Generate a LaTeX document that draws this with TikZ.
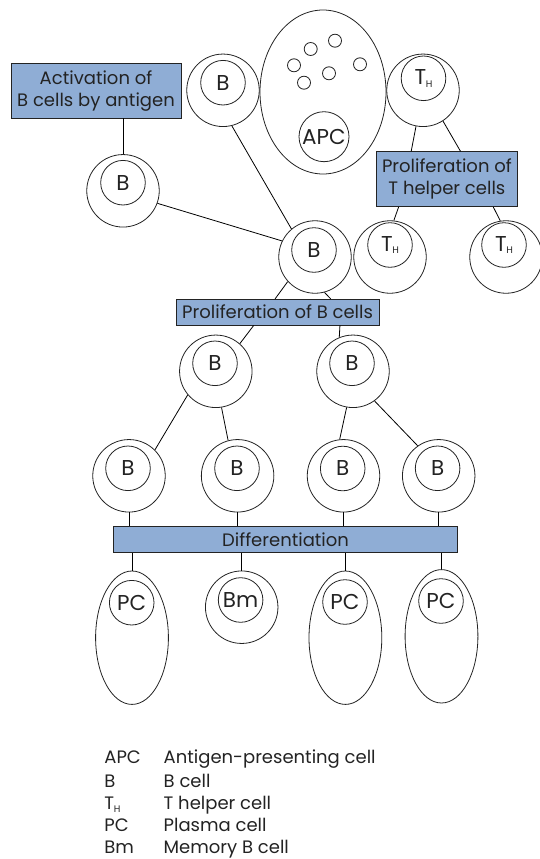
\documentclass[tikz,border=0pt]{standalone}
\usepackage{fontspec}
\setmainfont{Poppins}
\usetikzlibrary{shapes.geometric}
\definecolor{boxblue}{RGB}{143,173,213}
\definecolor{ink}{RGB}{35,35,35}
\newcommand{\Thelp}{T\kern-0.2pt\raisebox{-2.5pt}{\fontsize{9.5}{9.5}\selectfont H}}

\begin{document}
\begin{tikzpicture}[x=1pt,y=-1pt,line width=0.8pt,font=\fontsize{18}{22}\selectfont, every node/.style={text=ink}, cell/.style={draw=ink,circle,minimum size=72.5pt,inner sep=0pt}, nucleus/.style={draw=ink,circle,minimum size=44.6pt,inner sep=0pt,font=\fontsize{21.5}{24}\selectfont}, plasma/.style={draw=ink,ellipse,minimum width=72.8pt,minimum height=133.4pt,inner sep=0pt}, granule/.style={draw=ink,circle,minimum size=13pt,inner sep=0pt}, stage/.style={draw=ink,fill=boxblue,align=center,inner sep=0pt}, key/.style={anchor=base west,inner sep=0pt}]
\useasboundingbox (0,0) rectangle (539,859);
% activation and antigen presentation
\node[stage,minimum width=170pt,minimum height=54.7pt] (act) at (96,90.7) {Activation of\\B cells by antigen};
\node[cell] (bl) at (123,190.8) {}; \node[nucleus] (bl-n) at (123,182.7) {B};
\node[cell] (btop) at (223,90.3) {}; \node[nucleus] (btop-n) at (223,82.7) {B};
\node[draw=ink,ellipse,minimum width=126pt,minimum height=164pt] (apc) at (323,92) {};
\node[nucleus,minimum size=50pt] (apc-n) at (324,136.7) {APC};
\node[granule] (g1) at (335,40.7) {}; \node[granule] (g2) at (310.7,49) {}; \node[granule] (g3) at (294,65.3) {};
\node[granule] (g4) at (360,64.3) {}; \node[granule] (g5) at (329,73.3) {}; \node[granule] (g6) at (304,82.7) {};
\node[cell] (thtop) at (423,90.3) {}; \node[nucleus] (thtop-n) at (423.5,78.3) {\Thelp};
\node[stage,minimum width=141pt,minimum height=55pt] (prolt) at (446.9,179.2) {Proliferation of\\T helper cells};
\node[cell] (tha) at (390,257) {}; \node[nucleus] (tha-n) at (390,245) {\Thelp};
\node[cell] (thb) at (506,257) {}; \node[nucleus] (thb-n) at (504,245) {\Thelp};
\node[cell] (bmid) at (315,257) {}; \node[nucleus] (bmid-n) at (314,250) {B};
\draw (act.south -| bl.north) -- (bl.north);
\draw (btop.-76) -- (bmid.130); \draw (bl.-20) -- (bmid.154);
\draw (thtop.-101) -- (prolt.142.5); \draw (thtop.-57) -- (prolt.64.5);
\draw (prolt.-150.8) -- (tha.84); \draw (prolt.-31.6) -- (thb.99.5);
% proliferation of B cells
\node[stage,minimum width=203pt,minimum height=25.7pt] (prolb) at (277.6,312.2) {Proliferation of B cells};
\node[cell] (bfa) at (215.8,371.3) {}; \node[nucleus] (bfa-n) at (215,363.3) {B};
\node[cell] (bfb) at (353,371.3) {}; \node[nucleus] (bfb-n) at (352,363.3) {B};
\node[cell] (ba) at (129,475.8) {}; \node[nucleus] (ba-n) at (128,468.3) {B};
\node[cell] (bb) at (237.6,475.8) {}; \node[nucleus] (bb-n) at (237,468.3) {B};
\node[cell] (bc) at (343.5,475.8) {}; \node[nucleus] (bc-n) at (342.7,468.5) {B};
\node[cell] (bd) at (438.7,475.8) {}; \node[nucleus] (bd-n) at (437.6,468.3) {B};
\draw (bmid.-138.6) -- (prolb.101.4); \draw (bmid.-75.8) -- (prolb.14.6);
\draw (prolb.-151.5) -- (bfa.49); \draw (prolb.-12.4) -- (bfb.112.6);
\draw (bfa.-140.8) -- (ba.45.9); \draw (bfa.-81.9) -- (bb.105);
\draw (bfb.-100.1) -- (bc.96.5); \draw (bfb.-54.5) -- (bd.125.2);
% differentiation
\node[stage,minimum width=344.5pt,minimum height=26.3pt] (diff) at (285.6,539.2) {Differentiation};
\node[plasma] (pca) at (132,637.7) {}; \node[nucleus] (pca-n) at (131.7,602.7) {PC};
\node[cell] (bm) at (241.7,607.2) {}; \node[nucleus] (bm-n) at (240.6,600) {Bm};
\node[plasma] (pcc) at (345.4,637.7) {}; \node[nucleus] (pcc-n) at (345,602) {PC};
\node[plasma] (pcd) at (441.5,636.3) {}; \node[nucleus] (pcd-n) at (441,601) {PC};
\draw (ba.south) -- (ba.south |- diff.north); \draw (bb.south) -- (bb.south |- diff.north);
\draw (bc.south) -- (bc.south |- diff.north); \draw (bd.south) -- (bd.south |- diff.north);
\draw (diff.south -| pca.north) -- (pca.north); \draw (diff.south -| bm.north) -- (bm.north);
\draw (diff.south -| pcc.north) -- (pcc.north); \draw (diff.south -| pcd.north) -- (pcd.north);
% key
\node[key] (k1) at (104,763.5) {APC}; \node[key] (k1t) at (163.3,763.5) {Antigen-presenting cell};
\node[key] (k2) at (104,787) {B}; \node[key] (k2t) at (163.3,787) {B cell};
\node[key] (k3) at (104,809.5) {\Thelp}; \node[key] (k3t) at (163.3,809.5) {T helper cell};
\node[key] (k4) at (104,831) {PC}; \node[key] (k4t) at (163.3,831) {Plasma cell};
\node[key] (k5) at (104,853.5) {Bm}; \node[key] (k5t) at (163.3,853.5) {Memory B cell};
\end{tikzpicture}
\end{document}
